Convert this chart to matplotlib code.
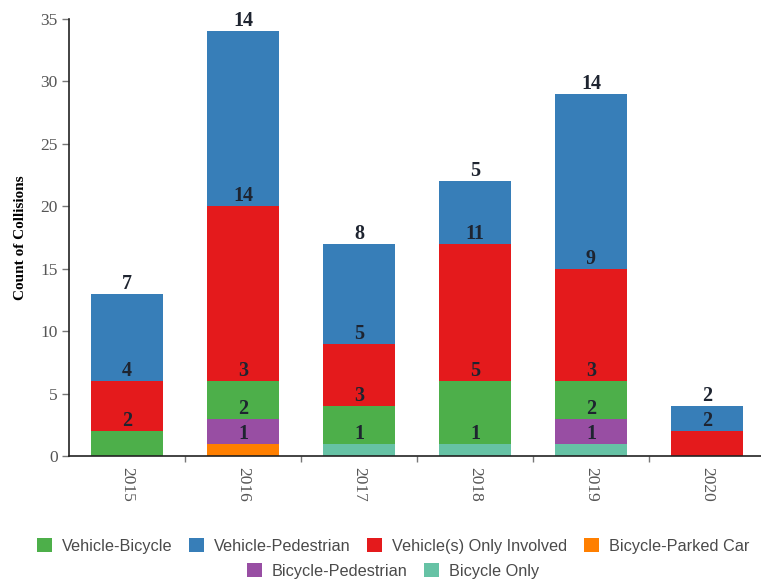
import matplotlib
matplotlib.use('Agg')
import matplotlib.pyplot as plt
import numpy as np
from matplotlib.patches import Patch

years = ['2015', '2016', '2017', '2018', '2019', '2020']
# 自下而上的堆叠顺序
stack_names = ['Bicycle Only', 'Bicycle-Parked Car', 'Bicycle-Pedestrian',
               'Vehicle-Bicycle', 'Vehicle(s) Only Involved', 'Vehicle-Pedestrian']
bicycle_only = [0, 0, 1, 1, 1, 0]
bicycle_parked_car = [0, 1, 0, 0, 0, 0]
bicycle_pedestrian = [0, 2, 0, 0, 2, 0]
vehicle_bicycle = [2, 3, 3, 5, 3, 0]
vehicle_only = [4, 14, 5, 11, 9, 2]
vehicle_pedestrian = [7, 14, 8, 5, 14, 2]
series = [bicycle_only, bicycle_parked_car, bicycle_pedestrian,
          vehicle_bicycle, vehicle_only, vehicle_pedestrian]
colors = {'Bicycle Only': '#66c2a5', 'Bicycle-Parked Car': '#ff7f00',
          'Bicycle-Pedestrian': '#984ea3', 'Vehicle-Bicycle': '#4daf4a',
          'Vehicle(s) Only Involved': '#e41a1c', 'Vehicle-Pedestrian': '#377eb8'}
legend_row1 = ['Vehicle-Bicycle', 'Vehicle-Pedestrian',
               'Vehicle(s) Only Involved', 'Bicycle-Parked Car']
legend_row2 = ['Bicycle-Pedestrian', 'Bicycle Only']

W, H = 761, 584
fig = plt.figure(figsize=(W / 100, H / 100), dpi=100)
ax = fig.add_axes([69 / W, 1 - 456 / H, (765 - 69) / W, (456 - 19) / H])

x = np.arange(len(years))
bottom = np.zeros(len(years))
for name, vals in zip(stack_names, series):
    v = np.array(vals, dtype=float)
    ax.bar(x, v, bottom=bottom, width=0.614, color=colors[name],
           edgecolor='none', zorder=2)
    top = bottom + v
    for xi, vi, ti in zip(x, v, top):
        if vi > 0:
            ax.annotate('%d' % vi, (xi, ti), xytext=(0, 0),
                        textcoords='offset points', ha='center', va='bottom',
                        fontsize=14.5, fontweight='bold', family='Liberation Serif',
                        color='#1e2430', zorder=3)
    bottom = top

ax.set_xlim(-0.5, len(years) - 0.5)
ax.set_ylim(0, 35)
ax.set_yticks(range(0, 36, 5))
ax.set_xticks(x)
ax.set_xticklabels(years, rotation=-90, family='Liberation Serif',
                   fontsize=12.5, color='#555555')
ax.set_xticks(x[:-1] + 0.5, minor=True)
for lab in ax.get_yticklabels():
    lab.set_family('Liberation Serif'); lab.set_fontsize(12.5); lab.set_color('#555555')
ax.tick_params(axis='x', which='major', length=0, pad=8)
ax.tick_params(axis='x', which='minor', length=4, width=1, color='#777777',
               direction='out')
ax.tick_params(axis='y', length=5, width=1, color='#777777', pad=3)
for s in ['top', 'right']:
    ax.spines[s].set_visible(False)
for s in ['left', 'bottom']:
    ax.spines[s].set_color('#222222'); ax.spines[s].set_linewidth(1.2)

ax.set_ylabel('Count of Collisions', family='Liberation Serif',
              fontweight='bold', fontsize=11, labelpad=10)

def legend_row(names, y):
    handles = [Patch(facecolor=colors[n], edgecolor='none') for n in names]
    leg = fig.legend(handles, names, loc='center', ncol=len(names),
                     bbox_to_anchor=(393 / W, 1 - y / H), frameon=False,
                     handlelength=0.95, handleheight=0.95, handletextpad=0.6,
                     columnspacing=1.0, prop={'family': 'Liberation Sans', 'size': 11.7})
    for t in leg.get_texts():
        t.set_color('#4a4a4a')
    return leg

legend_row(legend_row1, 546)
legend_row(legend_row2, 571)

fig.savefig('out.png', dpi=100)
